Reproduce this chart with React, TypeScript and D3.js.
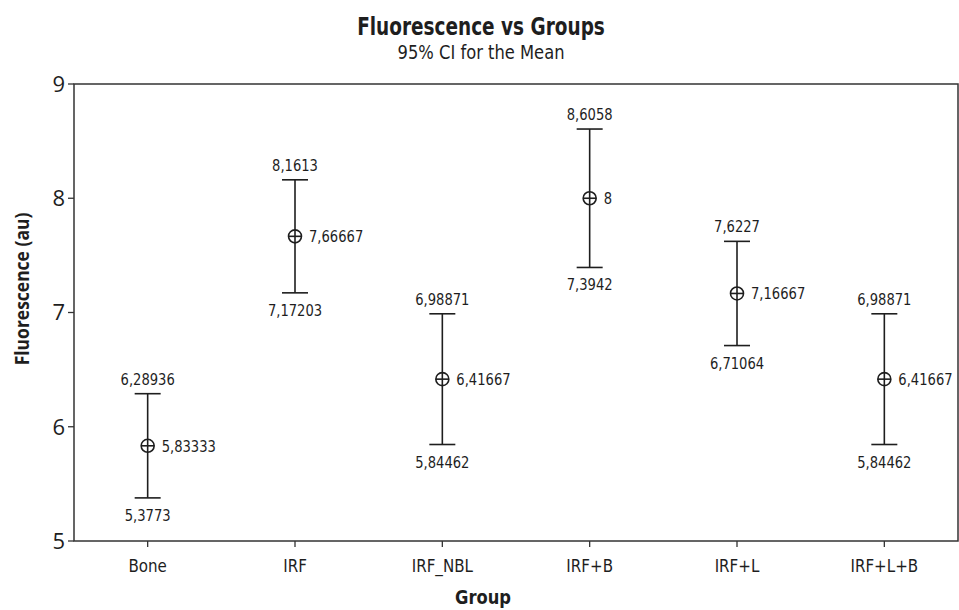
import React from 'react';
import * as d3 from 'd3';

// 95% CI per group (Minitab-style interval plot)
const groups = ['Bone', 'IRF', 'IRF_NBL', 'IRF+B', 'IRF+L', 'IRF+L+B'];
const means = [5.83333, 7.66667, 6.41667, 8, 7.16667, 6.41667];
const lowers = [5.3773, 7.17203, 5.84462, 7.3942, 6.71064, 5.84462];
const uppers = [6.28936, 8.1613, 6.98871, 8.6058, 7.6227, 6.98871];
const yTicks = [5, 6, 7, 8, 9];

const W = 959;
const H = 610;
const LEFT = 74;
const RIGHT = 958;
const TOP = 84;
const BOTTOM = 541;

const SANS = '"DejaVu Sans", sans-serif';
const INK = '#1e1e1e';

const fmt = (v: number) => String(v).replace('.', ',');

// condensed text: the original uses a narrow Tahoma-like face, so squeeze horizontally
const Txt: React.FC<{
  x: number; y: number; sx?: number; size: number; bold?: boolean;
  anchor?: 'start' | 'middle' | 'end'; dy?: string; rotate?: number; family?: string;
  children: React.ReactNode;
}> = ({ x, y, sx = 0.82, size, bold, anchor = 'middle', dy, rotate, family = SANS, children }) => (
  <text
    transform={`translate(${x},${y})${rotate ? ` rotate(${rotate})` : ''} scale(${sx},1)`}
    textAnchor={anchor}
    dy={dy}
    fontFamily={family}
    fontWeight={bold ? 'bold' : 'normal'}
    fontSize={size}
    fill={INK}
  >
    {children}
  </text>
);

export default function App() {
  const x = d3.scalePoint<string>().domain(groups).range([LEFT, RIGHT]).padding(0.5);
  const y = d3.scaleLinear().domain([5, 9]).range([BOTTOM, TOP]);
  const cap = 13;
  const r = 6.5;

  return (
    <svg width={W} height={H} style={{ position: 'absolute', left: 0, top: 0, background: '#fff' }}>
      {/* titles */}
      <Txt x={481} y={35} size={24} bold sx={0.77}>Fluorescence vs Groups</Txt>
      <Txt x={481} y={59} size={19} sx={0.86}>95% CI for the Mean</Txt>

      {/* frame */}
      <rect x={LEFT} y={TOP} width={RIGHT - LEFT} height={BOTTOM - TOP} fill="none" stroke="#333" strokeWidth={1.5} />

      {/* y axis */}
      {yTicks.map(t => (
        <g key={t}>
          <line x1={LEFT - 6} x2={LEFT} y1={y(t)} y2={y(t)} stroke="#333" strokeWidth={1.3} />
          <Txt x={LEFT - 9} y={y(t)} dy="0.36em" anchor="end" size={22} sx={1} family='"Open Sans", sans-serif'>
            {t}
          </Txt>
        </g>
      ))}
      <Txt x={29} y={289} rotate={-90} size={19} bold sx={0.92} family='"Open Sans", sans-serif'>
        Fluorescence (au)
      </Txt>

      {/* x axis */}
      {groups.map(g => (
        <g key={g}>
          <line x1={x(g)} x2={x(g)} y1={BOTTOM} y2={BOTTOM + 6} stroke="#333" strokeWidth={1.3} />
          <Txt x={x(g) as number} y={BOTTOM + 31} size={18} sx={0.84}>{g}</Txt>
        </g>
      ))}
      <Txt x={483} y={604} size={19} bold sx={0.86}>Group</Txt>

      {/* intervals */}
      {groups.map((g, i) => {
        const cx = x(g) as number;
        const ym = y(means[i]);
        const yl = y(lowers[i]);
        const yu = y(uppers[i]);
        return (
          <g key={g}>
            <g stroke={INK} strokeWidth={1.6} fill="none">
              <line x1={cx} x2={cx} y1={yu} y2={yl} />
              <line x1={cx - cap} x2={cx + cap} y1={yu} y2={yu} />
              <line x1={cx - cap} x2={cx + cap} y1={yl} y2={yl} />
              <circle cx={cx} cy={ym} r={r} />
              <line x1={cx - r} x2={cx + r} y1={ym} y2={ym} />
            </g>
            <Txt x={cx} y={yu - 9} size={16}>{fmt(uppers[i])}</Txt>
            <Txt x={cx} y={yl + 23} size={16}>{fmt(lowers[i])}</Txt>
            <Txt x={cx + 14} y={ym} dy="0.36em" anchor="start" size={16}>{fmt(means[i])}</Txt>
          </g>
        );
      })}
    </svg>
  );
}
